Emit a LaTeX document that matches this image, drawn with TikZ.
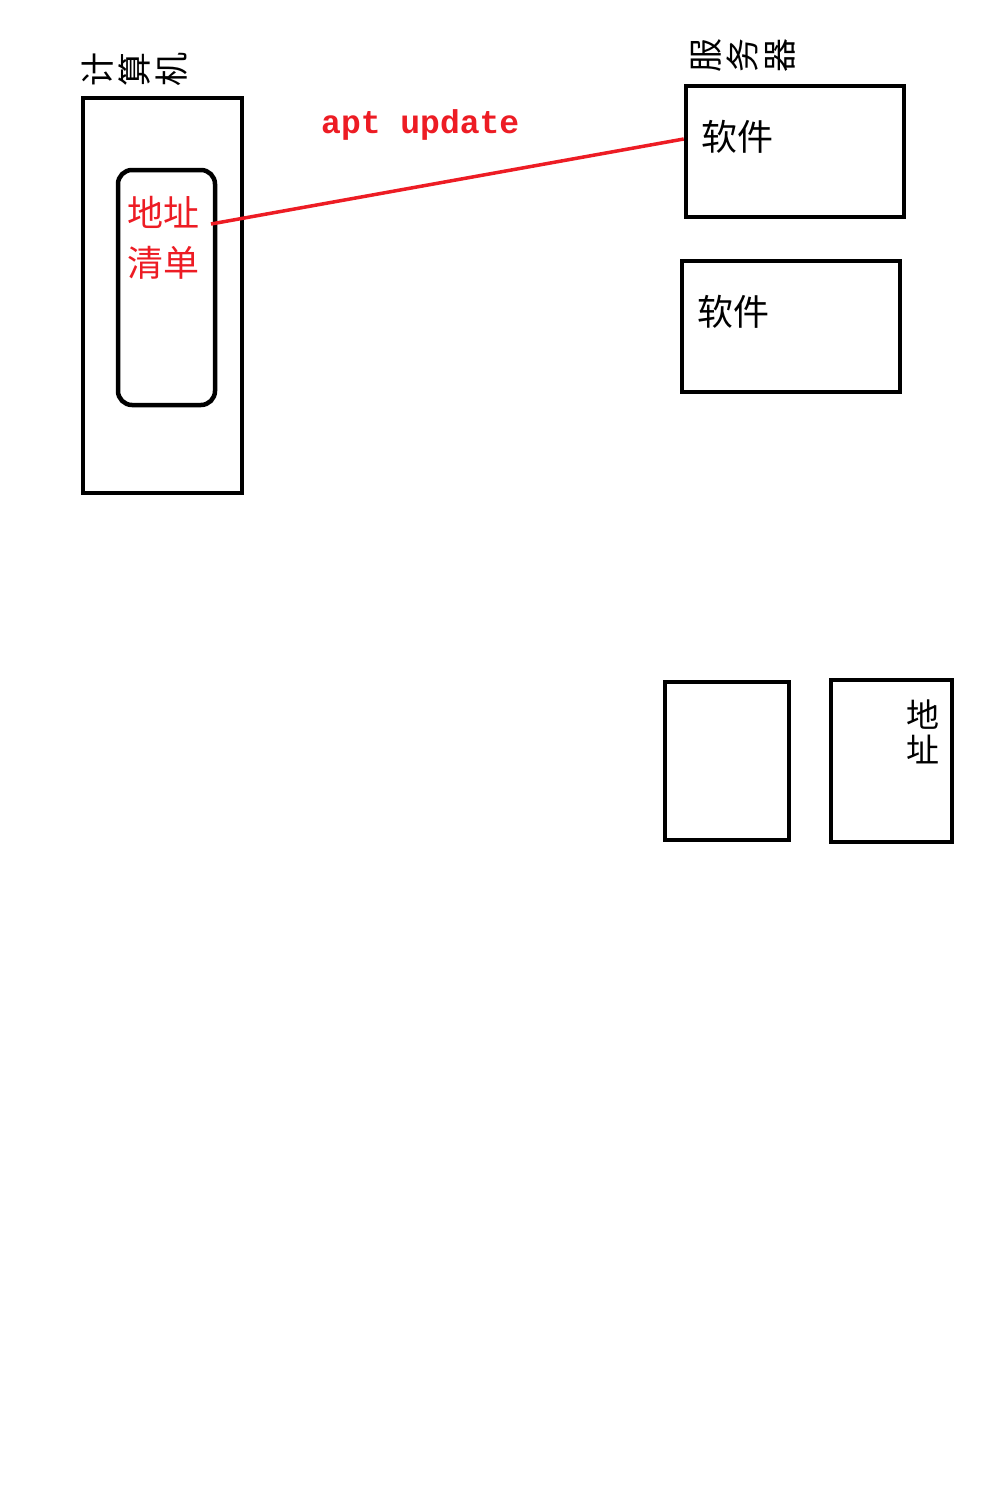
\documentclass[tikz,border=0pt]{standalone}
\usepackage{fontspec}
\newfontfamily\cjk{Noto Sans CJK SC}
\newfontfamily\mono{Liberation Mono}
\definecolor{redink}{RGB}{237,28,36}
\tikzset{
  box/.style={draw=black, line width=4.5pt, inner sep=0pt, fill=none},
  cjktext/.style={font=\cjk\fontsize{36}{50}\selectfont, inner sep=0pt},
  rotchar/.style={font=\cjk\fontsize{34}{34}\selectfont, inner sep=0pt, rotate=90},
  redtext/.style={text=redink},
}
\begin{document}
\begin{tikzpicture}[x=1pt,y=-1pt]
\useasboundingbox[fill=white] (0,0) rectangle (1004,1512);
% computer
\node[box, minimum width=159pt, minimum height=395pt] (computer) at (162.5,295.5) {};
\node[box, rounded corners=14pt, minimum width=97pt, minimum height=235pt] (list) at (166.5,287.5) {};
\node[cjktext, redtext, align=left, anchor=north west] (listtext) at (127,196) {地址\\清单};
\node[rotchar] (c1) at (98,69) {计};
\node[rotchar] (c2) at (135,69) {算};
\node[rotchar] (c3) at (172,69) {机};
% servers
\node[box, minimum width=218pt, minimum height=131pt] (server1) at (795,151.5) {};
\node[box, minimum width=218pt, minimum height=131pt] (server2) at (791,326.5) {};
\node[cjktext, anchor=west] (soft1) at (701,137) {软件};
\node[cjktext, anchor=west] (soft2) at (697,312) {软件};
\node[rotchar] (s1) at (706,56) {服};
\node[rotchar] (s2) at (743,56) {务};
\node[rotchar] (s3) at (780,56) {器};
% apt update
\node[font=\mono\bfseries\fontsize{33}{33}\selectfont, text=redink, anchor=base west, inner sep=0pt] (apt) at (321,133) {apt update};
% connector
\coordinate (lstart) at (211,224);
\coordinate (lend) at (server1.west |- 0,139);
\draw[redink, line width=3.5pt] (lstart) -- (lend);
% lower boxes
\node[box, minimum width=124pt, minimum height=158pt] (boxa) at (727,761) {};
\node[box, minimum width=121pt, minimum height=162pt] (boxb) at (891.5,761) {};
\node[font=\cjk\fontsize{33}{35}\selectfont, inner sep=0pt, align=center] (addr) at (923,732) {地\\址};
\end{tikzpicture}
\end{document}
